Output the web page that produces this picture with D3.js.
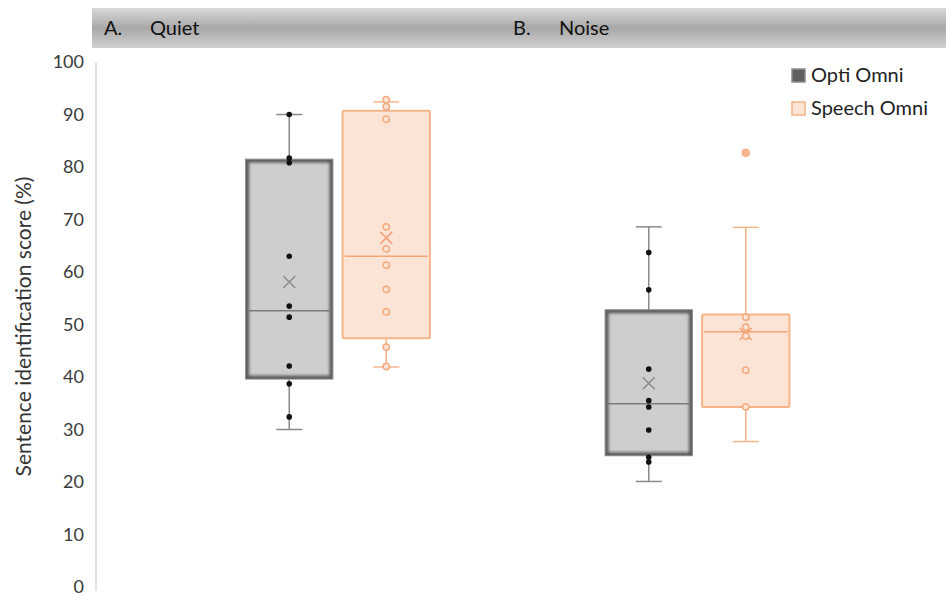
<!DOCTYPE html>
<html>
<head>
<meta charset="utf-8">
<script src="https://cdn.jsdelivr.net/npm/d3@7"></script>
<style>
	body { margin: 0; background: #fff; }
	text { font-family: Lato, 'Open Sans', sans-serif; fill: #333; }
</style>
</head>
<body>
<div id="chart"></div>
<script>
// data
const groups = ['Quiet', 'Noise'];
const panelLabels = ['A.', 'B.'];
const series = ['Opti Omni', 'Speech Omni'];
const yTicks = [0, 10, 20, 30, 40, 50, 60, 70, 80, 90, 100];

// [low, high] whisker ends, [q1, median, q3] box, per group
const optiWhisker = [[30.0, 90.0], [20.1, 68.6]];
const optiBox = [[39.6, 52.6, 81.5], [25.0, 34.9, 52.8]];
const optiMean = [58.1, 38.8];
const optiPoints = [
	[90.0, 81.7, 80.8, 63.0, 53.5, 51.4, 42.1, 38.7, 32.4],
	[63.7, 56.6, 41.5, 35.5, 34.3, 29.9, 24.7, 23.8],
];
const speechWhisker = [[41.9, 92.4], [27.7, 68.5]];
const speechBox = [[47.4, 63.0, 90.7], [34.3, 48.6, 51.9]];
const speechMean = [66.5, 48.2];
const speechPoints = [
	[92.8, 91.5, 89.1, 68.6, 64.4, 61.3, 56.7, 52.4, 45.7, 42.0],
	[51.4, 49.5, 47.8, 41.3, 34.3],
];
const speechOutliers = [[], [82.7]];

const W = 946;
const H = 596;

const styles = {
	'Opti Omni': { fill: '#cfcecf', stroke: '#5a5a5a', line: '#8a8a8a', median: '#7a7a7a', dot: '#111', mean: '#8a8a8a' },
	'Speech Omni': { fill: '#fbe4d6', stroke: '#f6b489', line: '#f6b489', median: '#f4a677', dot: '#f4a97c', mean: '#f3a074' },
};

const stats = {
	'Opti Omni': groups.map((g, i) => ({
		group: g, lo: optiWhisker[i][0], hi: optiWhisker[i][1],
		q1: optiBox[i][0], med: optiBox[i][1], q3: optiBox[i][2],
		mean: optiMean[i], pts: optiPoints[i], out: [],
	})),
	'Speech Omni': groups.map((g, i) => ({
		group: g, lo: speechWhisker[i][0], hi: speechWhisker[i][1],
		q1: speechBox[i][0], med: speechBox[i][1], q3: speechBox[i][2],
		mean: speechMean[i], pts: speechPoints[i], out: speechOutliers[i],
	})),
};

const svg = d3.select('#chart').append('svg')
	.attr('width', W)
	.attr('height', H);

const defs = svg.append('defs');
const grad = defs.append('linearGradient')
	.attr('id', 'hdr')
	.attr('x1', 0).attr('y1', 0).attr('x2', 0).attr('y2', 1);
grad.append('stop').attr('offset', '0%').attr('stop-color', '#d9d9d9');
grad.append('stop').attr('offset', '50%').attr('stop-color', '#a8a8a8');
grad.append('stop').attr('offset', '100%').attr('stop-color', '#d0d0d0');
defs.append('filter')
	.attr('id', 'soft')
	.attr('x', '-10%').attr('y', '-10%').attr('width', '120%').attr('height', '120%')
	.append('feGaussianBlur')
	.attr('stdDeviation', 1.8);

const y = d3.scaleLinear()
	.domain([0, 100])
	.range([587, 62]);
const x0 = d3.scaleBand()
	.domain(groups)
	.range([158, 877]);
const x1 = d3.scaleBand()
	.domain(series)
	.range([-97, 97])
	.paddingInner(0.1)
	.paddingOuter(0.05);

// header bar with panel labels
svg.append('rect')
	.attr('x', 92).attr('y', 8)
	.attr('width', W - 92).attr('height', 40)
	.attr('fill', 'url(#hdr)');
const panelX = [104, 513];
groups.forEach((g, i) => {
	svg.append('text')
		.attr('x', panelX[i]).attr('y', 35)
		.style('font-size', '20px')
		.style('fill', '#111')
		.text(panelLabels[i]);
	svg.append('text')
		.attr('x', panelX[i] + 46).attr('y', 35)
		.style('font-size', '20px')
		.style('fill', '#111')
		.text(g);
});

// y axis
const yAxis = d3.axisLeft(y)
	.tickValues(yTicks)
	.tickSize(0)
	.tickPadding(12);
const axisG = svg.append('g')
	.attr('transform', 'translate(96,0)')
	.call(yAxis);
axisG.select('.domain').remove();
axisG.selectAll('text')
	.style('font-size', '18px')
	.style('font-family', 'Lato, sans-serif')
	.style('fill', '#3a3a3a');
svg.append('line')
	.attr('x1', 96).attr('x2', 96)
	.attr('y1', y(100)).attr('y2', y(0) + 4)
	.attr('stroke', '#d9d9d9')
	.attr('stroke-width', 1.5);

svg.append('text')
	.attr('transform', `translate(31, ${y(50) + 2}) rotate(-90)`)
	.attr('text-anchor', 'middle')
	.style('font-size', '21px')
	.text('Sentence identification score (%)');

// boxes
const bw = x1.bandwidth();
const cap = 13;
let clipId = 0;
series.forEach((s) => {
	const st = styles[s];
	const g = svg.append('g').attr('class', 'series');
	stats[s].forEach((d) => {
		const cx = x0(d.group) + x0.bandwidth() / 2 + x1(s) + bw / 2;
		const bx = g.append('g').attr('transform', `translate(${cx},0)`);
		const top = y(d.q3);
		const bh = y(d.q1) - y(d.q3);

		// whiskers
		bx.append('line')
			.attr('x1', 0).attr('x2', 0)
			.attr('y1', y(d.hi)).attr('y2', top)
			.attr('stroke', st.line).attr('stroke-width', 1.5);
		bx.append('line')
			.attr('x1', 0).attr('x2', 0)
			.attr('y1', y(d.q1)).attr('y2', y(d.lo))
			.attr('stroke', st.line).attr('stroke-width', 1.5);
		[d.hi, d.lo].forEach((v) => {
			bx.append('line')
				.attr('x1', -cap).attr('x2', cap)
				.attr('y1', y(v)).attr('y2', y(v))
				.attr('stroke', st.line).attr('stroke-width', 1.5);
		});

		// box
		bx.append('rect')
			.attr('x', -bw / 2).attr('y', top)
			.attr('width', bw).attr('height', bh)
			.attr('fill', st.fill);
		if (s === 'Opti Omni') {
			// soft inner shadow edge
			const id = `clip${clipId++}`;
			bx.append('clipPath').attr('id', id)
				.append('rect')
					.attr('x', -bw / 2).attr('y', top)
					.attr('width', bw).attr('height', bh);
			bx.append('g').attr('clip-path', `url(#${id})`)
				.append('rect')
					.attr('x', -bw / 2).attr('y', top)
					.attr('width', bw).attr('height', bh)
					.attr('fill', 'none')
					.attr('stroke', st.stroke).attr('stroke-width', 7)
					.attr('filter', 'url(#soft)');
			bx.append('rect')
				.attr('x', -bw / 2).attr('y', top)
				.attr('width', bw).attr('height', bh)
				.attr('fill', 'none')
				.attr('stroke', '#8c8c8c').attr('stroke-width', 1);
		} else {
			bx.append('rect')
				.attr('x', -bw / 2).attr('y', top)
				.attr('width', bw).attr('height', bh)
				.attr('fill', 'none')
				.attr('stroke', st.stroke).attr('stroke-width', 2)
				.attr('rx', 1);
		}
		bx.append('line')
			.attr('x1', -bw / 2 + 2).attr('x2', bw / 2 - 2)
			.attr('y1', y(d.med)).attr('y2', y(d.med))
			.attr('stroke', st.median).attr('stroke-width', 1.5);

		// mean cross
		const m = 6;
		bx.append('path')
			.attr('d', `M${-m},${y(d.mean) - m}L${m},${y(d.mean) + m}M${m},${y(d.mean) - m}L${-m},${y(d.mean) + m}`)
			.attr('stroke', st.mean).attr('stroke-width', 1.5)
			.attr('fill', 'none');

		// points
		bx.selectAll('circle.pt')
			.data(d.pts)
			.enter().append('circle')
				.attr('class', 'pt')
				.attr('cx', 0).attr('cy', v => y(v))
				.attr('r', s === 'Opti Omni' ? 2.8 : 3.2)
				.attr('fill', s === 'Opti Omni' ? st.dot : st.fill)
				.attr('stroke', st.dot)
				.attr('stroke-width', s === 'Opti Omni' ? 0 : 1.5);
		bx.selectAll('circle.out')
			.data(d.out)
			.enter().append('circle')
				.attr('class', 'out')
				.attr('cx', 0).attr('cy', v => y(v))
				.attr('r', 3.8)
				.attr('fill', '#f6b791')
				.attr('stroke', '#f4a97c')
				.attr('stroke-width', 1);
	});
});

// legend
const legend = svg.append('g').attr('transform', 'translate(792,69)');
series.forEach((s, i) => {
	const st = styles[s];
	const li = legend.append('g').attr('transform', `translate(0, ${i * 33})`);
	li.append('rect')
		.attr('width', 13).attr('height', 13)
		.attr('fill', s === 'Opti Omni' ? '#606060' : st.fill)
		.attr('stroke', s === 'Opti Omni' ? '#8c8c8c' : st.stroke)
		.attr('stroke-width', 1.5);
	li.append('text')
		.attr('x', 19).attr('y', 13)
		.style('font-size', '20px')
		.style('fill', '#222')
		.text(s);
});
</script>
</body>
</html>
